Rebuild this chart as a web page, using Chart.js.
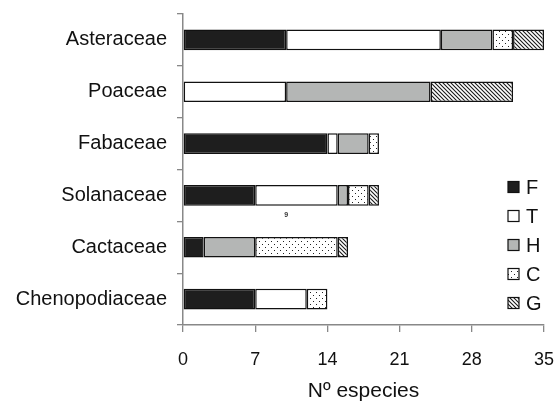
<!DOCTYPE html>
<html>
<head>
<meta charset="utf-8">
<script src="https://cdn.jsdelivr.net/npm/chart.js@4/dist/chart.umd.min.js"></script>
<style>
html,body{margin:0;padding:0;background:#fff;}
#wrap{position:relative;width:557px;height:402px;}
</style>
</head>
<body>
<div id="wrap"><canvas id="c" width="557" height="402"></canvas></div>
<script>
// ---- data ----
const categories = ['Asteraceae','Poaceae','Fabaceae','Solanaceae','Cactaceae','Chenopodiaceae'];
const seriesNames = ['F','T','H','C','G'];
const F = [10, 0, 14, 7, 2, 7];
const T = [15, 10, 1, 8, 0, 5];
const H = [5, 14, 3, 1, 5, 0];
const C = [2, 0, 1, 2, 8, 2];
const G = [3, 8, 0, 1, 1, 0];
const xTicks = [0, 7, 14, 21, 28, 35];
const xTitle = 'Nº especies';
const noteText = '9';
const noteAt = { category: 'Solanaceae', value: 10 };

// ---- patterns ----
function dotPattern(){
  const c = document.createElement('canvas'); c.width = 6; c.height = 6;
  const g = c.getContext('2d');
  g.fillStyle = '#fff'; g.fillRect(0,0,6,6);
  g.fillStyle = '#222';
  g.fillRect(1,1,1,1); g.fillRect(4,4,1,1);
  return g.createPattern(c,'repeat');
}
function hatchPattern(){
  const n = 4;
  const c = document.createElement('canvas'); c.width = n; c.height = n;
  const g = c.getContext('2d');
  g.fillStyle = '#fff'; g.fillRect(0,0,n,n);
  g.strokeStyle = '#1a1a1a'; g.lineWidth = 1.1;
  g.beginPath();
  g.moveTo(-1,-1); g.lineTo(n+1,n+1);
  g.moveTo(-n-1,-1); g.lineTo(1,n+1);
  g.moveTo(n-1,-1); g.lineTo(2*n+1,n+1);
  g.stroke();
  return g.createPattern(c,'repeat');
}
const fills = ['#1e1e1e', '#ffffff', '#b4b6b5', dotPattern(), hatchPattern()];
const values = [F, T, H, C, G];

const datasets = seriesNames.map((name, i) => ({
  label: name,
  data: values[i].map(v => v === 0 ? null : v),
  backgroundColor: fills[i],
  borderColor: '#111',
  borderWidth: 1.5,
  borderSkipped: false,
  categoryPercentage: 1,
  barPercentage: 0.4
}));

const FONT = "'Liberation Sans', Arial, sans-serif";

const extras = {
  id: 'extras',
  afterDraw(chart){
    const ctx = chart.ctx;
    // legend
    const x0 = 508, y0 = 187, step = 29, s = 11;
    ctx.save();
    chart.data.datasets.forEach((ds, i) => {
      const cy = y0 + i*step;
      ctx.fillStyle = ds.backgroundColor;
      ctx.fillRect(x0, cy - s/2, s, s);
      ctx.strokeStyle = '#111'; ctx.lineWidth = 1.2;
      ctx.strokeRect(x0, cy - s/2, s, s);
      ctx.fillStyle = '#111';
      ctx.font = "20px " + FONT;
      ctx.textBaseline = 'middle';
      ctx.textAlign = 'left';
      ctx.fillText(ds.label, x0 + s + 7, cy + 1);
    });
    // small note
    const xs = chart.scales.x, ys = chart.scales.y;
    const px = xs.getPixelForValue(noteAt.value);
    const py = ys.getPixelForValue(categories.indexOf(noteAt.category)) + 20;
    ctx.font = "bold 7px " + FONT;
    ctx.fillStyle = '#333';
    ctx.textAlign = 'center';
    ctx.fillText(noteText, px, py);
    ctx.restore();
  }
};

new Chart(document.getElementById('c'), {
  type: 'bar',
  data: { labels: categories, datasets },
  options: {
    indexAxis: 'y',
    responsive: false,
    animation: false,
    layout: { padding: { top: 14, right: 13, bottom: 0, left: 0 } },
    plugins: { legend: { display: false }, tooltip: { enabled: false } },
    scales: {
      x: {
        stacked: true,
        min: 0, max: 35,
        afterBuildTicks(scale){ scale.ticks = xTicks.map(v => ({ value: v })); },
        afterFit(scale){ scale.height = 77; scale.paddingLeft = 0; scale.paddingRight = 0; },
        grid: { drawOnChartArea: false, drawTicks: true, tickLength: 7, color: '#888', lineWidth: 1.3 },
        border: { display: true, color: '#888', width: 1.5 },
        ticks: { color: '#111', font: { family: FONT, size: 18 }, padding: 17, maxRotation: 0 },
        title: { display: true, text: xTitle, color: '#111', font: { family: FONT, size: 21, lineHeight: 1.0 }, padding: { top: 0, bottom: 0 } }
      },
      y: {
        stacked: true,
        afterFit(scale){ scale.width = 183; scale.paddingTop = 0; scale.paddingBottom = 0; },
        grid: { drawOnChartArea: false, drawTicks: true, tickLength: 6, offset: true, color: '#888', lineWidth: 1.3 },
        border: { display: true, color: '#888', width: 1.5 },
        ticks: { color: '#111', font: { family: FONT, size: 20 }, padding: 10 }
      }
    }
  },
  plugins: [extras]
});
</script>
</body>
</html>
